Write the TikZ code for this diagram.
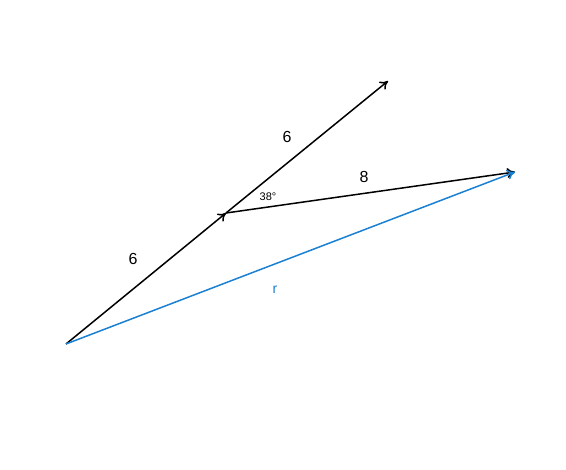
\documentclass[tikz,border=0pt]{standalone}
\usepackage{fontspec}
\setmainfont{Liberation Sans}
\usetikzlibrary{arrows.meta}
\definecolor{rblue}{RGB}{26,128,210}
\begin{document}
\begin{tikzpicture}[x=1pt,y=-1pt,
  vec/.style={line width=1.5pt,-{To[length=8pt,width=10pt]}},
  lbl/.style={font=\fontsize{16}{16}\selectfont}]
\useasboundingbox (0,0) rectangle (566,470);
\coordinate (O) at (66,344);
\coordinate (M) at (226,213);
\coordinate (T) at (388,81);
\coordinate (E) at (515,172);
\draw[vec] (O) -- (M);
\draw[vec] (M) -- (T);
\draw[vec] (M) -- (E);
\draw[vec,rblue] (O) -- (E);
\node[lbl] (l1) at (133,259) {6};
\node[lbl] (l2) at (287,137) {6};
\node[lbl] (l3) at (364,177) {8};
\node[font=\fontsize{11}{11}\selectfont] (ang) at (268,197) {38°};
\node[font=\fontsize{14}{14}\selectfont,text=rblue] (r) at (275,290) {r};
\end{tikzpicture}
\end{document}
